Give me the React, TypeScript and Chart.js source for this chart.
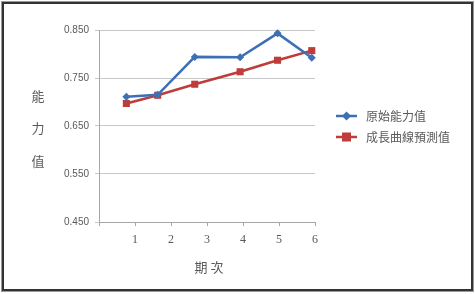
import React, { useEffect, useRef } from "react";
import { Chart, registerables } from "chart.js";

Chart.register(...registerables);

const periods = [0.76, 1.63, 2.66, 3.92, 4.96, 5.91];
const originalValues = [0.711, 0.715, 0.794, 0.793, 0.843, 0.792];
const predictedValues = [0.697, 0.714, 0.737, 0.763, 0.787, 0.807];
const seriesNames = ["原始能力值", "成長曲線預測值"];
const xTickLabels = ["", "1", "2", "3", "4", "5", "6"];
const yTitleChars = ["能", "力", "值"];
const xTitle = "期 次";

const BLUE = "#3d6fb6";
const RED = "#be3c3a";
const TEXT = "#595959";

const decorPlugin = {
  id: "decor",
  afterDraw(chart: any) {
    const ctx = chart.ctx as CanvasRenderingContext2D;
    ctx.save();
    // outer frame
    ctx.strokeStyle = "#9a9a9a";
    ctx.lineWidth = 1;
    ctx.strokeRect(1.5, 1.5, 472, 290);
    ctx.strokeStyle = "#333333";
    ctx.lineWidth = 2;
    ctx.strokeRect(3, 3, 469, 287);

    // y title
    ctx.fillStyle = TEXT;
    ctx.font = '13px "Noto Sans CJK TC", sans-serif';
    ctx.textAlign = "center";
    ctx.textBaseline = "middle";
    const ys = [96, 128, 161];
    yTitleChars.forEach((c, i) => ctx.fillText(c, 38, ys[i]));
    // x title
    ctx.fillText(xTitle, 209, 267);

    // legend
    const items = [
      { name: seriesNames[0], color: BLUE, style: "diamond", y: 116 },
      { name: seriesNames[1], color: RED, style: "square", y: 137 },
    ];
    items.forEach((it) => {
      ctx.strokeStyle = it.color;
      ctx.lineWidth = 2.5;
      ctx.beginPath();
      ctx.moveTo(336, it.y);
      ctx.lineTo(357, it.y);
      ctx.stroke();
      ctx.fillStyle = it.color;
      ctx.beginPath();
      if (it.style === "diamond") {
        ctx.moveTo(346.5, it.y - 4.5);
        ctx.lineTo(351, it.y);
        ctx.lineTo(346.5, it.y + 4.5);
        ctx.lineTo(342, it.y);
        ctx.closePath();
      } else {
        ctx.rect(342, it.y - 4.5, 9, 9);
      }
      ctx.fill();
      ctx.fillStyle = TEXT;
      ctx.textAlign = "left";
      ctx.font = '12px "Noto Sans CJK TC", sans-serif';
      ctx.fillText(it.name, 366, it.y);
    });
    ctx.restore();
  },
};

export default function App() {
  const ref = useRef<HTMLCanvasElement>(null);
  useEffect(() => {
    document.body.style.margin = "0";
    const chart = new Chart(ref.current!, {
      type: "scatter",
      data: {
        datasets: [
          {
            label: seriesNames[0],
            data: periods.map((x, i) => ({ x, y: originalValues[i] })),
            showLine: true,
            borderColor: BLUE,
            backgroundColor: BLUE,
            borderWidth: 2.5,
            pointStyle: "rectRot",
            pointRadius: 4,
            pointBorderWidth: 0,
            clip: false as any,
          },
          {
            label: seriesNames[1],
            data: periods.map((x, i) => ({ x, y: predictedValues[i] })),
            showLine: true,
            borderColor: RED,
            backgroundColor: RED,
            borderWidth: 2.5,
            pointStyle: "rect",
            pointRadius: 5,
            pointBorderWidth: 0,
            clip: false as any,
          },
        ],
      },
      options: {
        animation: false,
        responsive: false,
        layout: { padding: { top: 30, right: 160, left: 0, bottom: 0 } },
        plugins: { legend: { display: false }, tooltip: { enabled: false } },
        scales: {
          x: {
            type: "linear",
            min: 0,
            max: 6,
            afterFit: (s: any) => {
              s.height = 72;
            },
            ticks: {
              stepSize: 1,
              padding: 7,
              color: TEXT,
              font: { family: '"Liberation Serif", serif', size: 12 },
              callback: (v: any) => xTickLabels[Math.round(Number(v))] ?? "",
              maxRotation: 0,
            },
            grid: {
              drawOnChartArea: false,
              drawTicks: true,
              tickLength: 4,
              color: "#a6a6a6",
            },
            border: { color: "#a6a6a6" },
          },
          y: {
            min: 0.45,
            max: 0.85,
            afterFit: (s: any) => {
              s.width = 99;
            },
            ticks: {
              stepSize: 0.1,
              padding: 6,
              color: TEXT,
              font: { family: '"Liberation Sans", Arial, sans-serif', size: 10 },
              callback: (v: any) => Number(v).toFixed(3),
            },
            grid: { color: "#c8c8c8", tickLength: 4 },
            border: { color: "#a6a6a6" },
          },
        },
      },
      plugins: [decorPlugin],
    } as any);
    return () => chart.destroy();
  }, []);
  return <canvas ref={ref} width={475} height={294} style={{ display: "block" }} />;
}
